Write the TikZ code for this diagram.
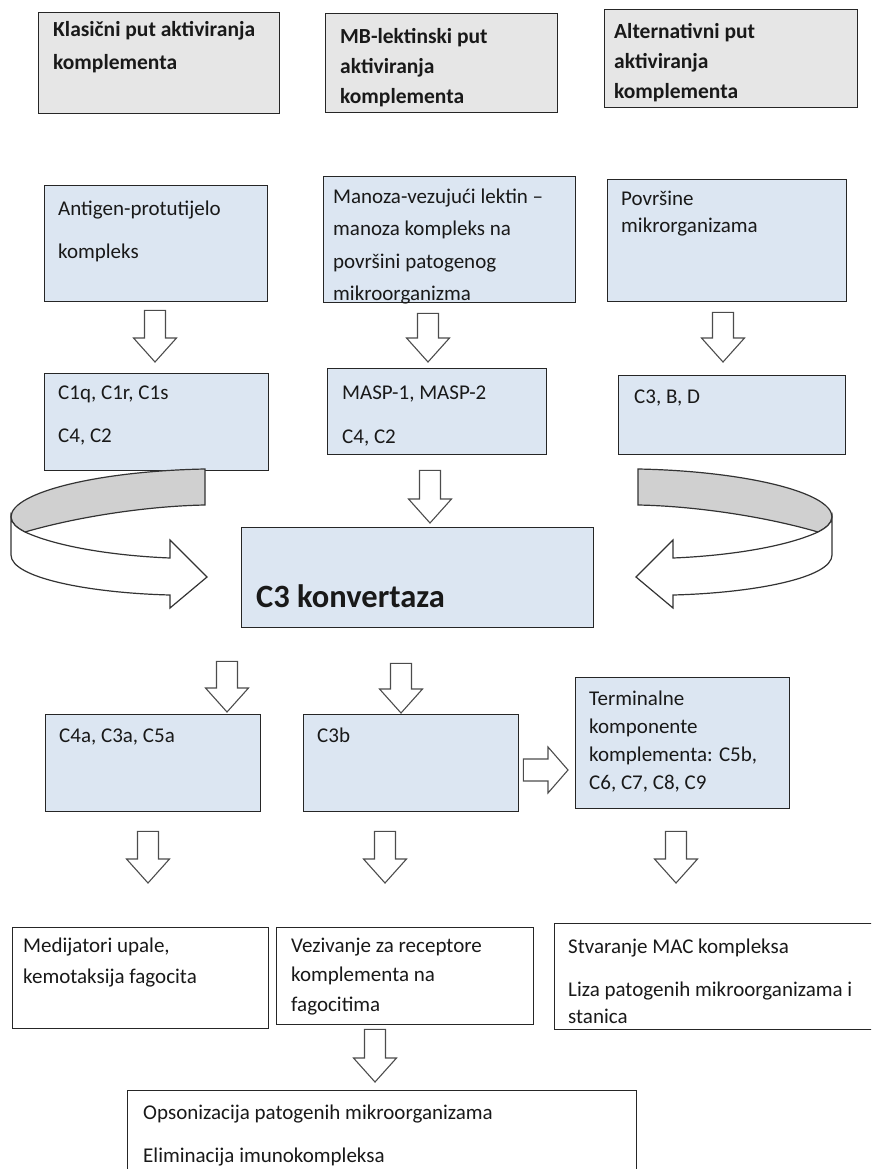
\documentclass[tikz,border=0pt]{standalone}
\usepackage{fontspec}
\setmainfont{Carlito}
\usetikzlibrary{calc}

\definecolor{boxblue}{RGB}{220,230,242}
\definecolor{headgray}{RGB}{230,230,230}
\definecolor{bandgray}{RGB}{208,208,208}

\tikzset{
  headbox/.style={draw=black!85, fill=headgray, line width=1.3pt, anchor=north west, inner sep=0pt},
  bluebox/.style={draw=black!85, fill=boxblue, line width=1.3pt, anchor=north west, inner sep=0pt},
  whitebox/.style={draw=black!85, fill=white, line width=1.3pt, anchor=north west, inner sep=0pt},
  txt/.style={anchor=north west, inner sep=0pt, align=left, text=black!90},
  blockarrow/.style={draw=black!70, fill=white, line width=1.1pt, line join=miter},
  band/.style={draw=black!80, line width=1.2pt}
}

% down block arrow: x, from node, gap, to node, gap
\newcommand\dnarrow[5]{%
  \draw[blockarrow] let \p1=($(#2 -| #1,0)+(0,#3)$), \p2=($(#4 -| #1,0)+(0,-#5)$) in
    (\x1-10.5pt,\y1) -- (\x1+10.5pt,\y1) -- (\x1+10.5pt,\y2+24pt) -- (\x1+21.5pt,\y2+24pt)
    -- (\x1,\y2) -- (\x1-21.5pt,\y2+24pt) -- (\x1-10.5pt,\y2+24pt) -- cycle;}
% right block arrow: y, from node, gap, to node, gap
\newcommand\rtarrow[5]{%
  \draw[blockarrow] let \p1=($(#2 |- 0,#1)+(#3,0)$), \p2=($(#4 |- 0,#1)+(-#5,0)$) in
    (\x1,\y1+11pt) -- (\x2-20pt,\y1+11pt) -- (\x2-20pt,\y1+23pt) -- (\x2,\y1)
    -- (\x2-20pt,\y1-23pt) -- (\x2-20pt,\y1-11pt) -- (\x1,\y1-11pt) -- cycle;}
% curved 3d arrow (left one)
\newcommand\curvedarrow{%
  \draw[band, fill=bandgray] (205,469) .. controls (100,471) and (11,492) .. (11,517)
    .. controls (11,523) and (17,528) .. (25,532)
    .. controls (80,516) and (150,506) .. (205,505) -- cycle;
  \draw[band, fill=white] (11,517) .. controls (11,523) and (17,528) .. (25,532)
    .. controls (60,548) and (120,556) .. (170,558) -- (170,540) -- (207,577)
    -- (170,608) -- (170,595) .. controls (90,593) and (11,578) .. (11,555) -- cycle;}

\begin{document}
\begin{tikzpicture}[x=1pt, y=-1pt]
  \useasboundingbox (0,0) rectangle (871,1169);
  \clip (0,0) rectangle (871,1169);

  % Headers
  \node[headbox, minimum width=241pt, minimum height=101pt] (hklas) at (38,12) {};
  \node[txt, font=\bfseries\fontsize{21.5}{33}\selectfont] (hklas-t) at (53,18.5)
    {\rule{0pt}{18pt}Klasični put aktiviranja\\komplementa};
  \node[headbox, minimum width=232pt, minimum height=99pt] (hmbl) at (325,13) {};
  \node[txt, font=\bfseries\fontsize{21.5}{30}\selectfont] (hmbl-t) at (340,25.5)
    {\rule{0pt}{18pt}MB-lektinski put\\aktiviranja\\komplementa};
  \node[headbox, minimum width=253pt, minimum height=98pt] (halt) at (604,9) {};
  \node[txt, font=\bfseries\fontsize{21.5}{30}\selectfont] (halt-t) at (614,20.5)
    {\rule{0pt}{18pt}Alternativni put\\aktiviranja\\komplementa};

  % Activators
  \node[bluebox, minimum width=223pt, minimum height=116pt] (ag) at (44,185) {};
  \node[txt, font=\fontsize{21}{43}\selectfont] (ag-t) at (58,197)
    {\rule{0pt}{18pt}Antigen-protutijelo\\kompleks};
  \node[bluebox, minimum width=252pt, minimum height=126pt] (mbl) at (323,176) {};
  \node[txt, font=\fontsize{21}{32.5}\selectfont] (mbl-t) at (333,185)
    {\rule{0pt}{18pt}Manoza-vezujući lektin –\\manoza kompleks na\\površini patogenog\\mikroorganizma};
  \node[bluebox, minimum width=239pt, minimum height=122pt] (pov) at (607,179) {};
  \node[txt, font=\fontsize{21}{27}\selectfont] (pov-t) at (621,187)
    {\rule{0pt}{18pt}Površine\\mikrorganizama};

  % Components
  \node[bluebox, minimum width=224pt, minimum height=97pt] (clq) at (44,373) {};
  \node[txt, font=\fontsize{21}{43}\selectfont] (clq-t) at (58,381)
    {\rule{0pt}{18pt}C1q, C1r, C1s\\C4, C2};
  \node[bluebox, minimum width=219pt, minimum height=86pt] (masp) at (327,368) {};
  \node[txt, font=\fontsize{21}{44}\selectfont] (masp-t) at (342,381)
    {\rule{0pt}{18pt}MASP-1, MASP-2\\C4, C2};
  \node[bluebox, minimum width=227pt, minimum height=79pt] (cbd) at (618,375) {};
  \node[txt, font=\fontsize{21}{30}\selectfont] (cbd-t) at (634,385)
    {\rule{0pt}{18pt}C3, B, D};

  % C3 convertase
  \node[bluebox, minimum width=352pt, minimum height=100pt] (conv) at (241,527) {};
  \node[txt, font=\bfseries\fontsize{32.5}{38}\selectfont] (conv-t) at (256,581)
    {\rule{0pt}{26pt}C3 konvertaza};

  % Products
  \node[bluebox, minimum width=215pt, minimum height=97pt] (ana) at (45,714) {};
  \node[txt, font=\fontsize{21}{30}\selectfont] (ana-t) at (59,724)
    {\rule{0pt}{18pt}C4a, C3a, C5a};
  \node[bluebox, minimum width=215pt, minimum height=97pt] (cb) at (303,714) {};
  \node[txt, font=\fontsize{21}{30}\selectfont] (cb-t) at (317,724)
    {\rule{0pt}{18pt}C3b};
  \node[bluebox, minimum width=214pt, minimum height=131pt] (term) at (575,677) {};
  \node[txt, font=\fontsize{21}{28}\selectfont] (term-t) at (589,687)
    {\rule{0pt}{18pt}Terminalne\\komponente\\komplementa: C5b,\\C6, C7, C8, C9};

  % Effects
  \node[whitebox, minimum width=256pt, minimum height=101pt] (med) at (12,927) {};
  \node[txt, font=\fontsize{21}{31}\selectfont] (med-t) at (23,934)
    {\rule{0pt}{18pt}Medijatori upale,\\kemotaksija fagocita};
  \node[whitebox, minimum width=257pt, minimum height=97pt] (vez) at (276,927) {};
  \node[txt, font=\fontsize{21}{29.5}\selectfont] (vez-t) at (291,934)
    {\rule{0pt}{18pt}Vezivanje za receptore\\komplementa na\\fagocitima};
  \node[whitebox, minimum width=330pt, minimum height=106pt] (mac) at (554,923) {};
  \node[txt, font=\fontsize{21}{27}\selectfont] (mac-t) at (568,935)
    {\rule{0pt}{18pt}Stvaranje MAC kompleksa\\[16pt]Liza patogenih mikroorganizama i\\stanica};
  \node[whitebox, minimum width=509pt, minimum height=100pt] (ops) at (127,1090) {};
  \node[txt, font=\fontsize{21}{43}\selectfont] (ops-t) at (143,1101)
    {\rule{0pt}{18pt}Opsonizacija patogenih mikroorganizama\\Eliminacija imunokompleksa};

  % Block arrows
  \dnarrow{155}{ag.south}{8}{clq.north}{11}
  \dnarrow{428}{mbl.south}{10}{masp.north}{6}
  \dnarrow{723}{pov.south}{10}{cbd.north}{13}
  \dnarrow{430}{masp.south}{15}{conv.north}{4}
  \dnarrow{227}{conv.south}{33}{ana.north}{2}
  \dnarrow{401}{conv.south}{35}{cb.north}{1}
  \rtarrow{770}{cb.east}{4}{term.west}{7}
  \dnarrow{148}{ana.south}{19}{med.north}{44}
  \dnarrow{385}{cb.south}{19}{vez.north}{44}
  \dnarrow{676}{term.south}{22}{mac.north}{40}
  \dnarrow{375}{vez.south}{4}{ops.north}{8}

  % Curved arrows
  \curvedarrow
  \begin{scope}[shift={(843,0)}, xscale=-1]
    \curvedarrow
  \end{scope}
\end{tikzpicture}
\end{document}
